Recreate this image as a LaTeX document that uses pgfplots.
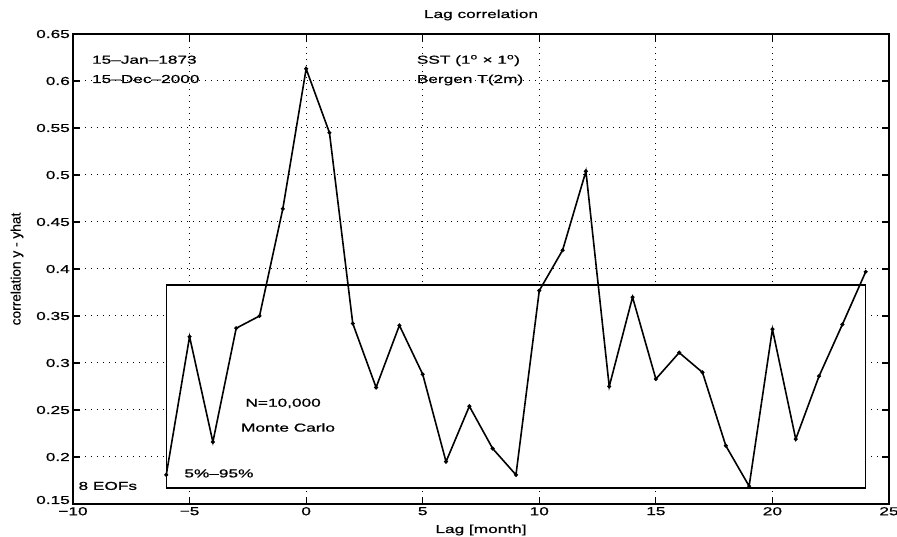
\documentclass[border=0pt]{standalone}
\usepackage{fontspec}
\setmainfont{Liberation Sans}[FakeStretch=1.5, FakeBold=0.8]
\newfontfamily\ylabfont{Liberation Sans}[FakeBold=0.6]
\usepackage{pgfplots}
\pgfplotsset{compat=1.18}
\begin{document}
\begin{tikzpicture}[font=\fontsize{11.5}{13}\selectfont]
\useasboundingbox (-73pt,-33pt) rectangle (824pt,504pt);
\begin{axis}[
  at={(0pt,0pt)}, anchor=south west,
  scale only axis, width=816pt, height=470pt,
  xmin=-10, xmax=25, ymin=0.15, ymax=0.65,
  xtick={-10,-5,0,5,10,15,20,25},
  xticklabels={−10,−5,0,5,10,15,20,25},
  ytick={0.2,0.25,0.3,0.35,0.4,0.45,0.5,0.55,0.6,0.65},
  yticklabels={0.2,0.25,0.3,0.35,0.4,0.45,0.5,0.55,0.6,0.65},
  extra y ticks={0.15},
  extra y tick labels={0.15},
  extra y tick style={yticklabel style={yshift=4pt}},
  tick align=inside, major tick length=7pt,
  tick style={line width=1.2pt, black},
  xticklabel style={inner sep=0pt, yshift=-3pt},
  yticklabel style={inner sep=0pt, xshift=-3pt},
  grid=major,
  major grid style={black, line width=1pt, dash pattern=on 1pt off 5pt},
  axis line style={line width=1.6pt},
  title={Lag correlation},
  title style={at={(axis description cs:0.5,1.0213)}, anchor=base, inner sep=0pt},
  xlabel={Lag [month]},
  xlabel style={at={(axis description cs:0.5,-0.0617)}, anchor=base, inner sep=0pt},
  ylabel={\ylabfont\fontsize{13.7}{14}\selectfont correlation y - yhat},
  ylabel style={at={(axis description cs:-0.0686,0.5)}, anchor=center, inner sep=0pt},
  clip=false,
]
% Monte Carlo 5%-95% box
\addplot[draw=black, line width=1.3pt, fill=white] coordinates {
  (-6,0.167) (24,0.167) (24,0.383) (-6,0.383) (-6,0.167)};
% lag correlation
\addplot[black, line width=1.6pt, mark=*, mark size=1.1pt] coordinates {
  (-6,0.181) (-5,0.328) (-4,0.216) (-3,0.337) (-2,0.350) (-1,0.464)
  (0,0.613) (1,0.545) (2,0.342) (3,0.274) (4,0.340) (5,0.288)
  (6,0.195) (7,0.254) (8,0.209) (9,0.181) (10,0.377) (11,0.420)
  (12,0.504) (13,0.275) (14,0.370) (15,0.283) (16,0.311) (17,0.290)
  (18,0.212) (19,0.169) (20,0.336) (21,0.219) (22,0.286) (23,0.341)
  (24,0.397)};
\node[anchor=base west, inner sep=0pt] at (axis cs:-9.19,0.6184) {15–Jan–1873};
\node[anchor=base west, inner sep=0pt] at (axis cs:-9.19,0.5979) {15–Dec–2000};
\node[anchor=base west, inner sep=0pt] at (axis cs:4.74,0.6184) {SST (1\textsuperscript{o} × 1\textsuperscript{o})};
\node[anchor=base west, inner sep=0pt] at (axis cs:4.74,0.5979) {Bergen T(2m)};
\node[anchor=base west, inner sep=0pt] at (axis cs:-2.61,0.2535) {N=10,000};
\node[anchor=base west, inner sep=0pt] at (axis cs:-2.80,0.227) {Monte Carlo};
\node[anchor=base west, inner sep=0pt] at (axis cs:-5.23,0.1783) {5\%–95\%};
\node[anchor=base west, inner sep=0pt] at (axis cs:-9.77,0.165) {8 EOFs};
\end{axis}
\end{tikzpicture}
\end{document}
